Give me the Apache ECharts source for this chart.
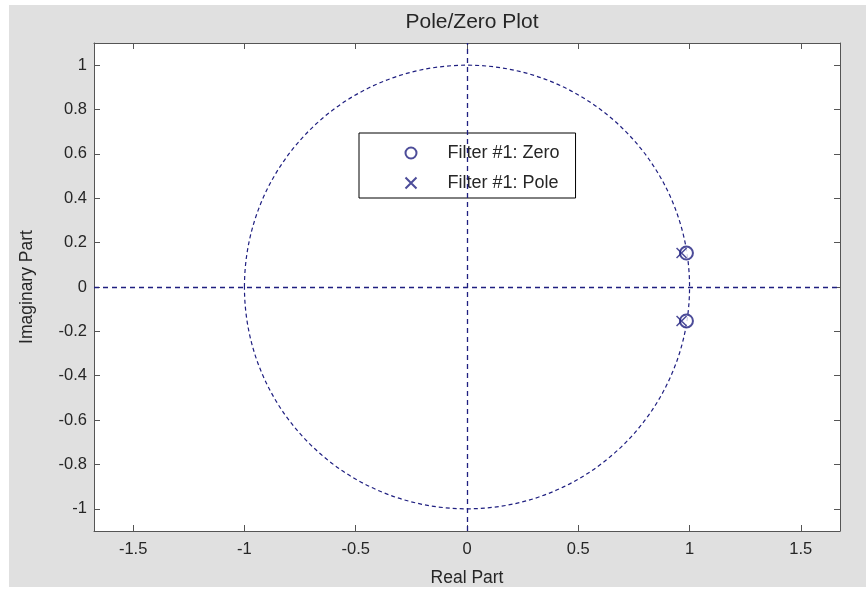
<!DOCTYPE html>
<html>
<head>
<meta charset="utf-8">
<script src="https://cdn.jsdelivr.net/npm/echarts@6/dist/echarts.min.js"></script>
<style>
html,body{margin:0;padding:0;background:#fff;}
#chart{width:866px;height:592px;}
</style>
</head>
<body>
<div id="chart"></div>
<script>
// ---- data ----
const zerosRe = [0.986, 0.986];
const zerosIm = [0.153, -0.153];
const polesRe = [0.964, 0.964];
const polesIm = [0.153, -0.153];
const unitCircle = [[0, 0, 1]]; // center x, center y, radius
const xTicks = [-1.5, -1, -0.5, 0, 0.5, 1, 1.5];
const yTicks = [-1, -0.8, -0.6, -0.4, -0.2, 0, 0.2, 0.4, 0.6, 0.8, 1];
const xRange = [-1.676, 1.676];
const yRange = [-1.1, 1.1];
const seriesNames = ['Filter #1: Zero', 'Filter #1: Pole'];

const navy = '#1f1f80';
const axisCol = '#555';
const textCol = '#262626';
const font = 'Liberation Sans, Arial, sans-serif';
const crossPath = 'path://M0,0L10,10M10,0L0,10';

function mkX(pos, labels) {
  return {
    type: 'value', position: pos, min: xRange[0], max: xRange[1],
    name: labels ? 'Real Part' : '', nameLocation: 'middle', nameGap: 38,
    nameTextStyle: {fontFamily: font, fontSize: 17.5, color: textCol},
    axisLine: {show: true, onZero: false, lineStyle: {color: axisCol, width: 1}},
    axisTick: {show: true, inside: true, length: 6, customValues: xTicks, lineStyle: {color: axisCol}},
    axisLabel: {show: labels, customValues: xTicks, margin: 10, fontFamily: font, fontSize: 16.5, color: textCol},
    splitLine: {show: false}
  };
}
function mkY(pos, labels) {
  return {
    type: 'value', position: pos, min: yRange[0], max: yRange[1],
    name: labels ? 'Imaginary Part' : '', nameLocation: 'middle', nameGap: 58, nameRotate: 90,
    nameTextStyle: {fontFamily: font, fontSize: 17.5, color: textCol},
    axisLine: {show: true, onZero: false, lineStyle: {color: axisCol, width: 1}},
    axisTick: {show: true, inside: true, length: 6, customValues: yTicks, lineStyle: {color: axisCol}},
    axisLabel: {show: labels, customValues: yTicks, margin: 7, fontFamily: font, fontSize: 16.5, color: textCol},
    splitLine: {show: false}
  };
}

const chart = echarts.init(document.getElementById('chart'), null, {renderer: 'canvas'});
chart.setOption({
  animation: false,
  backgroundColor: 'transparent',
  graphic: [{
    type: 'rect', z: -100, silent: true,
    shape: {x: 9, y: 5, width: 857, height: 582},
    style: {fill: '#e0e0e0'}
  }],
  title: {
    text: 'Pole/Zero Plot', left: 467, top: 7, textAlign: 'center',
    textStyle: {fontFamily: font, fontSize: 21, fontWeight: 'normal', color: textCol}
  },
  grid: {left: 94, right: 26, top: 43, bottom: 59, show: true, backgroundColor: '#fff', borderWidth: 0},
  xAxis: [mkX('bottom', true), mkX('top', false)],
  yAxis: [mkY('left', true), mkY('right', false)],
  legend: {
    orient: 'vertical', left: 359, top: 133,
    backgroundColor: '#fff', borderColor: '#000', borderWidth: 1,
    padding: [11, 16, 6, 44], itemGap: 12, itemWidth: 11, itemHeight: 11,
    selectedMode: false,
    textStyle: {fontFamily: font, fontSize: 18, color: textCol, padding: [0, 0, 0, 26]},
    data: [{name: seriesNames[0], icon: 'emptyCircle'}, {name: seriesNames[1], icon: crossPath}]
  },
  series: [
    {
      type: 'custom', name: 'unit', silent: true, xAxisIndex: 0, yAxisIndex: 0,
      data: unitCircle,
      itemStyle: {color: navy},
      renderItem: function (params, api) {
        const c = api.coord([api.value(0), api.value(1)]);
        const r = api.value(2);
        const p = api.coord([api.value(0) + r, api.value(1) + r]);
        return {
          type: 'ellipse',
          shape: {cx: c[0], cy: c[1], rx: p[0] - c[0], ry: c[1] - p[1]},
          style: {fill: null, stroke: navy, lineWidth: 1.2, lineDash: [4, 3]}
        };
      },
      markLine: {
        silent: true, symbol: 'none', label: {show: false},
        lineStyle: {color: navy, width: 1.3, type: [5, 4]},
        emphasis: {disabled: true},
        data: [{xAxis: 0, lineStyle: {color: navy}}, {yAxis: 0, lineStyle: {color: navy}}]
      },
      z: 2
    },
    {
      type: 'scatter', name: seriesNames[0], xAxisIndex: 0, yAxisIndex: 0,
      data: zerosRe.map((v, i) => [v, zerosIm[i]]),
      symbol: 'emptyCircle', symbolSize: 13,
      itemStyle: {color: navy, borderColor: navy, borderWidth: 1.5},
      z: 5
    },
    {
      type: 'scatter', name: seriesNames[1], xAxisIndex: 0, yAxisIndex: 0,
      data: polesRe.map((v, i) => [v, polesIm[i]]),
      symbol: crossPath, symbolSize: 10,
      itemStyle: {color: 'none', borderColor: navy, borderWidth: 1.5},
      z: 6
    }
  ]
});
</script>
</body>
</html>
